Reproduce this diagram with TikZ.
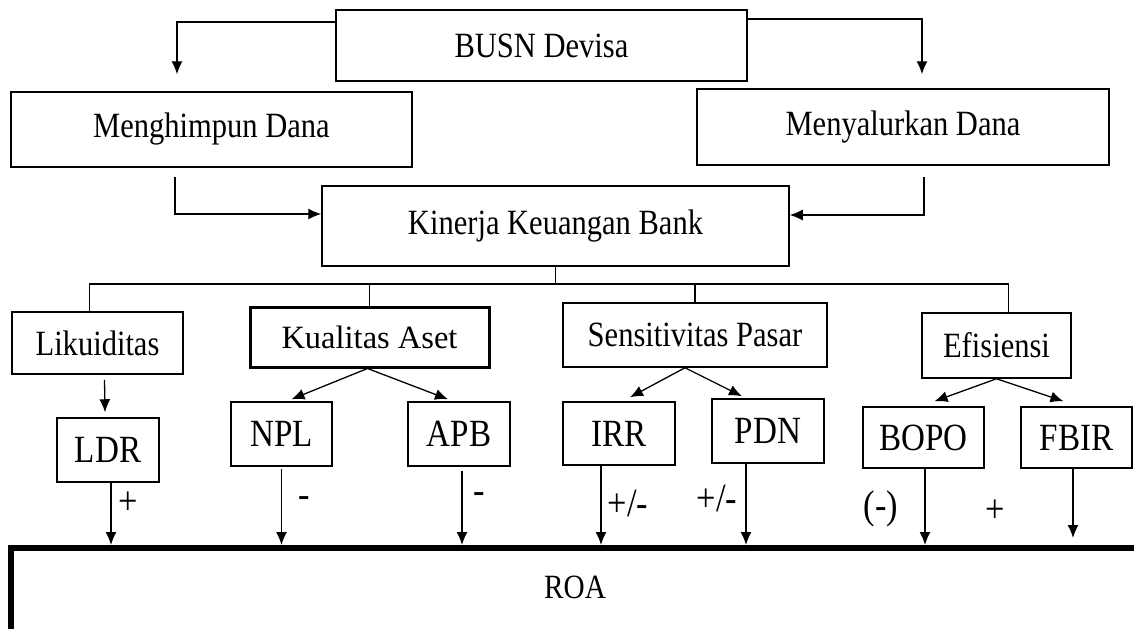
\documentclass[tikz,border=0pt]{standalone}
\usepackage{fontspec}
\setmainfont{Liberation Serif}
\newfontfamily\narrowfont{Liberation Serif}[FakeStretch=0.86]
\usetikzlibrary{arrows.meta}

\begin{document}
\begin{tikzpicture}[x=1pt, y=-1pt,
    kotak/.style={draw, line width=1.5pt, inner sep=0pt, font=\narrowfont\fontsize{35.5}{40}\selectfont},
    rasio/.style={kotak, font=\narrowfont\fontsize{38.5}{43}\selectfont},
    panah/.style={line width=1.3pt, -{Latex[length=13pt, width=11pt]}},
    garis/.style={line width=1.3pt},
    tanda/.style={inner sep=0pt, font=\narrowfont\fontsize{40}{44}\selectfont}]
    \useasboundingbox (0,0) rectangle (1134,629);

    %riquadri principali
    \node[kotak, minimum width=411pt, minimum height=71pt] (busn) at (541.5,45.5) {BUSN Devisa};
    \node[kotak, minimum width=401pt, minimum height=75pt] (himpun) at (211.5,129.5) {Menghimpun Dana};
    \node[kotak, minimum width=412pt, minimum height=76pt] (salur) at (903,127) {Menyalurkan Dana};
    \node[kotak, minimum width=467pt, minimum height=80pt] (kinerja) at (555.5,226) {Kinerja Keuangan Bank};

    %aspetti
    \node[kotak, minimum width=171pt, minimum height=62pt] (likuid) at (97.5,343) {Likuiditas};
    \node[kotak, line width=3pt, font=\fontsize{32.5}{37}\selectfont, minimum width=239pt, minimum height=60pt] (aset) at (369.5,337) {Kualitas Aset};
    \node[kotak, minimum width=264pt, minimum height=64pt] (pasar) at (695,335) {Sensitivitas Pasar};
    \node[kotak, minimum width=149pt, minimum height=65pt] (efisien) at (996.5,345.5) {Efisiensi};

    %rapporti
    \node[rasio, minimum width=102pt, minimum height=64pt] (ldr) at (108,450) {LDR};
    \node[rasio, minimum width=101pt, minimum height=64pt] (npl) at (281.5,434) {NPL};
    \node[rasio, minimum width=102pt, minimum height=64pt] (apb) at (459,434) {APB};
    \node[rasio, minimum width=112pt, minimum height=63pt] (irr) at (619,433.5) {IRR};
    \node[rasio, minimum width=112pt, minimum height=64pt] (pdn) at (768,431) {PDN};
    \node[rasio, minimum width=121pt, minimum height=61pt] (bopo) at (923.5,437.5) {BOPO};
    \node[rasio, minimum width=111pt, minimum height=61pt] (fbir) at (1076.5,437.5) {FBIR};

    %ROA
    \draw[line width=6pt] (1134,548) -| (11,629);
    \node[kotak, draw=none, font=\narrowfont\fontsize{34}{38}\selectfont] (roa) at (575,587) {ROA};
    \coordinate (atasroa) at (0,545);

    %frecce in alto
    \draw[panah] ([yshift=23.5pt]busn.west) -| ([xshift=-34.5pt, yshift=17pt]himpun.north);
    \draw[panah] ([yshift=26.5pt]busn.east) -| ([xshift=19pt, yshift=14pt]salur.north);
    \draw[panah] ([xshift=-36.5pt, yshift=-9pt]himpun.south) |- ([yshift=12pt]kinerja.west);
    \draw[panah] ([xshift=21pt, yshift=-11pt]salur.south) |- ([yshift=11pt]kinerja.east);

    %albero
    \coordinate (bus) at (0,284);
    \draw[garis] (kinerja.south) -- (kinerja.south |- bus);
    \draw[garis] ([xshift=-8pt]likuid.north) -- ([xshift=-8pt]likuid.north |- bus) -- ([xshift=12pt]efisien.north |- bus) -- ([xshift=12pt]efisien.north);
    \draw[garis] (aset.north) -- (aset.north |- bus);
    \draw[garis] (pasar.north) -- (pasar.north |- bus);

    %frecce verso i rapporti
    \draw[panah] ([xshift=7pt, yshift=-5pt]likuid.south) -- ([xshift=-3pt, yshift=5pt]ldr.north);
    \draw[panah] ([xshift=-2pt]aset.south) -- ([xshift=10pt, yshift=2pt]npl.north);
    \draw[panah] ([xshift=-2pt]aset.south) -- ([xshift=-11pt, yshift=2pt]apb.north);
    \draw[panah] ([xshift=-10pt]pasar.south) -- ([xshift=11pt, yshift=4pt]irr.north);
    \draw[panah] ([xshift=-10pt]pasar.south) -- ([xshift=-26pt, yshift=2pt]pdn.north);
    \draw[panah] (efisien.south) -- ([xshift=11pt, yshift=5pt]bopo.north);
    \draw[panah] (efisien.south) -- ([xshift=-13pt, yshift=5pt]fbir.north);

    %frecce verso ROA
    \draw[panah] ([xshift=3pt]ldr.south) -- ([xshift=3pt]ldr.south |- atasroa);
    \draw[panah] ([yshift=-2pt]npl.south) -- (npl.south |- atasroa);
    \draw[panah] ([xshift=3pt, yshift=-4pt]apb.south) -- ([xshift=3pt]apb.south |- atasroa);
    \draw[panah] ([xshift=-18pt]irr.south) -- ([xshift=-18pt]irr.south |- atasroa);
    \draw[panah] ([xshift=-22pt]pdn.south) -- ([xshift=-22pt]pdn.south |- atasroa);
    \draw[panah] ([xshift=1.5pt]bopo.south) -- ([xshift=1.5pt]bopo.south |- atasroa);
    \draw[panah] ([xshift=-3.5pt]fbir.south) -- ([xshift=-3.5pt, yshift=7pt]fbir.south |- atasroa);

    %segni
    \node[tanda] (segno1) at (128,503) {+};
    \node[tanda] (segno2) at (304,502) {-};
    \node[tanda] (segno3) at (479,498) {-};
    \node[tanda] (segno4) at (628,504) {+/-};
    \node[tanda] (segno5) at (717,499) {+/-};
    \node[tanda] (segno6) at (881,509) {(-)};
    \node[tanda] (segno7) at (995,511) {+};
\end{tikzpicture}
\end{document}
